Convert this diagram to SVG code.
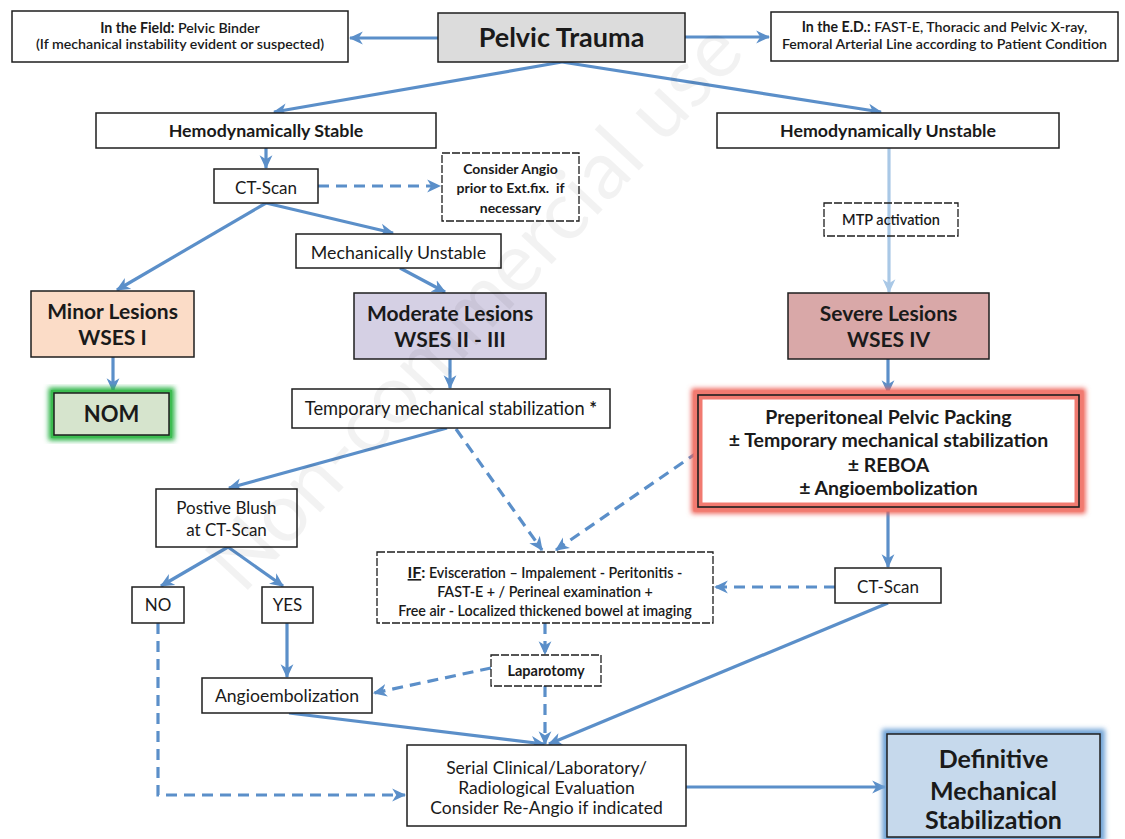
<svg xmlns="http://www.w3.org/2000/svg" width="1125" height="839" viewBox="0 0 1125 839">
<style>
.box{fill:#fff;stroke:#1e1e1e;stroke-width:1.5}
.dbox{fill:#fff;stroke:#1e1e1e;stroke-width:1.3;stroke-dasharray:8 2}
.t{font-family:Lato,"Liberation Sans",sans-serif;fill:#1a1a1a;text-anchor:middle}
.b{font-weight:bold}
.sb{font-weight:600}
.c{fill:none;stroke:#5b8fc9;stroke-width:3.2;marker-end:url(#ah)}
.d{stroke-dasharray:11 7}
.lt{fill:none;stroke:#a9c8e6;stroke-width:3.2;marker-end:url(#ahl)}
</style>
<defs>
<marker id="ah" viewBox="0 0 12 12" refX="11" refY="6" markerWidth="14" markerHeight="14" markerUnits="userSpaceOnUse" orient="auto">
<path d="M0,0.5 L12,6 L0,11.5 L3.5,6 z" fill="#5b8fc9"/>
</marker>
<marker id="ahl" viewBox="0 0 12 12" refX="11" refY="6" markerWidth="14" markerHeight="14" markerUnits="userSpaceOnUse" orient="auto">
<path d="M0,0.5 L12,6 L0,11.5 L3.5,6 z" fill="#a9c8e6"/>
</marker>
<filter id="blur" x="-20%" y="-20%" width="140%" height="140%"><feGaussianBlur stdDeviation="2.5"/></filter>
</defs>
<rect width="1125" height="839" fill="#fff"/>

<g id="connectors">
<line class="c" x1="438" y1="38" x2="350" y2="38"/>
<line class="c" x1="685" y1="37" x2="769" y2="37"/>
<line class="c" x1="562" y1="62" x2="274" y2="112"/>
<line class="c" x1="562" y1="62" x2="881" y2="112"/>
<line class="c" x1="266" y1="148" x2="266" y2="168"/>
<line class="c d" x1="318" y1="186" x2="440" y2="186"/>
<line class="c" x1="266" y1="203" x2="117" y2="290"/>
<line class="c" x1="266" y1="203" x2="393" y2="233"/>
<line class="lt" x1="889" y1="148" x2="889" y2="292"/>
<line class="c" x1="400" y1="268" x2="445" y2="292"/>
<line class="c" x1="450" y1="359" x2="450" y2="388"/>
<line class="c" x1="113" y1="357" x2="113" y2="391"/>
<line class="c" x1="888" y1="359" x2="888" y2="393"/>
<line class="c" x1="447" y1="428" x2="229" y2="488"/>
<line class="c d" x1="456" y1="429" x2="542" y2="550"/>
<line class="c d" x1="698" y1="452" x2="556" y2="550"/>
<line class="c" x1="888" y1="507" x2="888" y2="567"/>
<line class="c d" x1="835" y1="587" x2="715" y2="587"/>
<line class="c" x1="888" y1="603" x2="549" y2="744"/>
<line class="c" x1="228" y1="547" x2="161" y2="586"/>
<line class="c" x1="228" y1="547" x2="283" y2="586"/>
<line class="c" x1="287" y1="623" x2="287" y2="677"/>
<path class="c d" d="M158,623 V795 H405"/>
<line class="c d" x1="545" y1="623" x2="545" y2="654"/>
<line class="c d" x1="491" y1="668" x2="374" y2="693"/>
<line class="c d" x1="545" y1="686" x2="545" y2="744"/>
<line class="c" x1="289" y1="713" x2="544" y2="744"/>
<line class="c" x1="686" y1="787" x2="885" y2="787"/>
</g>

<g id="field">
<rect class="box" x="12" y="11" width="336" height="51"/>
<text class="t sb" x="180" y="33" font-size="14.2"><tspan class="b">In the Field:</tspan> Pelvic Binder</text>
<text class="t sb" x="180" y="49" font-size="14.2">(If mechanical instability evident or suspected)</text>
</g>

<g id="pelvic-trauma">
<rect class="box" x="438" y="13" width="247" height="49" style="fill:#dcdcdc"/>
<text class="t b" x="561.5" y="47" font-size="27">Pelvic Trauma</text>
</g>

<g id="ed">
<rect class="box" x="771" y="12" width="347" height="49"/>
<text class="t sb" x="944.5" y="32" font-size="14.2"><tspan class="b">In the E.D.:</tspan> FAST-E, Thoracic and Pelvic X-ray,</text>
<text class="t sb" x="944.5" y="49" font-size="14.2">Femoral Arterial Line according to Patient Condition</text>
</g>

<g id="hemo-stable">
<rect class="box" x="96" y="113" width="340" height="35"/>
<text class="t b" x="266" y="137" font-size="17.8">Hemodynamically Stable</text>
</g>

<g id="hemo-unstable">
<rect class="box" x="717" y="113" width="342" height="35"/>
<text class="t b" x="888" y="137" font-size="17.8">Hemodynamically Unstable</text>
</g>

<g id="ct-scan-1">
<rect class="box" x="214" y="169" width="104" height="34"/>
<text class="t" x="266" y="194" font-size="17">CT-Scan</text>
</g>

<g id="consider-angio">
<rect class="dbox" x="442" y="153" width="137" height="68"/>
<text class="t b" x="510.5" y="174" font-size="14">Consider Angio</text>
<text class="t b" x="510.5" y="193" font-size="14" xml:space="preserve">prior to Ext.fix.  if</text>
<text class="t b" x="510.5" y="213" font-size="14">necessary</text>
</g>

<g id="mtp">
<rect class="dbox" x="824" y="203" width="134" height="33" style="fill:none"/>
<text class="t sb" x="891" y="225" font-size="14.5">MTP activation</text>
</g>

<g id="mech-unstable">
<rect class="box" x="296" y="234" width="205" height="34"/>
<text class="t" x="398.5" y="259" font-size="17.8">Mechanically Unstable</text>
</g>

<g id="minor">
<rect class="box" x="31" y="291" width="163" height="66" style="fill:#fbdcc7"/>
<text class="t b" x="112.5" y="319" font-size="21">Minor Lesions</text>
<text class="t b" x="112.5" y="345" font-size="21">WSES I</text>
</g>

<g id="moderate">
<rect class="box" x="354" y="293" width="192" height="66" style="fill:#d5d0e4"/>
<text class="t b" x="450" y="321" font-size="21">Moderate Lesions</text>
<text class="t b" x="450" y="347" font-size="21">WSES II - III</text>
</g>

<g id="severe">
<rect class="box" x="788" y="293" width="201" height="66" style="fill:#d9a8a8"/>
<text class="t b" x="888.5" y="321" font-size="21">Severe Lesions</text>
<text class="t b" x="888.5" y="347" font-size="21">WSES IV</text>
</g>

<g id="nom">
<rect x="54" y="393" width="115" height="42" fill="none" stroke="#2fb446" stroke-width="11" filter="url(#blur)"/>
<rect x="54" y="393" width="115" height="42" fill="none" stroke="#3cbc50" stroke-width="6"/>
<rect class="box" x="54" y="393" width="115" height="42" style="fill:#d6e4cd"/>
<text class="t b" x="111.5" y="422" font-size="22">NOM</text>
</g>

<g id="temp-stab">
<rect class="box" x="292" y="389" width="318" height="39"/>
<text class="t" x="451" y="415" font-size="18.3">Temporary mechanical stabilization <tspan class="b">*</tspan></text>
</g>

<g id="ppp">
<rect x="698" y="395" width="381" height="112" fill="none" stroke="#ee5e52" stroke-width="13" filter="url(#blur)"/>
<rect x="698" y="395" width="381" height="112" fill="#fff" stroke="#f17a70" stroke-width="9"/>
<rect x="698" y="395" width="381" height="112" fill="none" stroke="#1e1e1e" stroke-width="1.6"/>
<text class="t b" x="888.5" y="424" font-size="19.5">Preperitoneal Pelvic Packing</text>
<text class="t b" x="888.5" y="447" font-size="19.5">± Temporary mechanical stabilization</text>
<text class="t b" x="888.5" y="472" font-size="19.5">± REBOA</text>
<text class="t b" x="888.5" y="495" font-size="19.5">± Angioembolization</text>
</g>

<g id="positive-blush">
<rect class="box" x="156" y="489" width="141" height="58"/>
<text class="t" x="226.5" y="514" font-size="17">Postive Blush</text>
<text class="t" x="226.5" y="536" font-size="17">at CT-Scan</text>
</g>

<g id="if-box">
<rect class="dbox" x="377" y="552" width="336" height="71"/>
<text class="t sb" x="545" y="578" font-size="14.3"><tspan class="b" font-size="16" text-decoration="underline">IF</tspan><tspan class="b" font-size="16">:</tspan> Evisceration – Impalement - Peritonitis -</text>
<text class="t sb" x="545" y="597" font-size="14.3">FAST-E + / Perineal examination +</text>
<text class="t sb" x="545" y="616" font-size="14.3">Free air - Localized thickened bowel at imaging</text>
</g>

<g id="ct-scan-2">
<rect class="box" x="835" y="568" width="106" height="35"/>
<text class="t" x="888" y="593" font-size="17">CT-Scan</text>
</g>

<g id="no">
<rect class="box" x="132" y="587" width="52" height="36"/>
<text class="t" x="158" y="611" font-size="17">NO</text>
</g>

<g id="yes">
<rect class="box" x="262" y="587" width="51" height="36"/>
<text class="t" x="287.5" y="611" font-size="17">YES</text>
</g>

<g id="laparotomy">
<rect class="dbox" x="491" y="655" width="110" height="31"/>
<text class="t b" x="546" y="676" font-size="14.5">Laparotomy</text>
</g>

<g id="angioembolization">
<rect class="box" x="202" y="678" width="170" height="35"/>
<text class="t" x="287" y="702" font-size="17.6">Angioembolization</text>
</g>

<g id="serial">
<rect class="box" x="407" y="745" width="279" height="81"/>
<text class="t" x="546.5" y="774" font-size="17.5">Serial Clinical/Laboratory/</text>
<text class="t" x="546.5" y="794" font-size="17.5">Radiological Evaluation</text>
<text class="t" x="546.5" y="814" font-size="17.5">Consider Re-Angio if indicated</text>
</g>

<g id="definitive">
<rect x="887" y="734" width="213" height="103" fill="none" stroke="#6fa3d6" stroke-width="10" filter="url(#blur)"/>
<rect class="box" x="887" y="734" width="213" height="103" style="fill:#c6d9ec"/>
<text class="t b" x="993.5" y="768" font-size="25">Definitive</text>
<text class="t b" x="993.5" y="800" font-size="25">Mechanical</text>
<text class="t b" x="993.5" y="829" font-size="25">Stabilization</text>
</g>

<g id="watermark">
<text class="t" transform="translate(495,325) rotate(-47)" font-size="82" style="fill:#000;fill-opacity:0.05">Non-commercial use</text>
</g>
</svg>
